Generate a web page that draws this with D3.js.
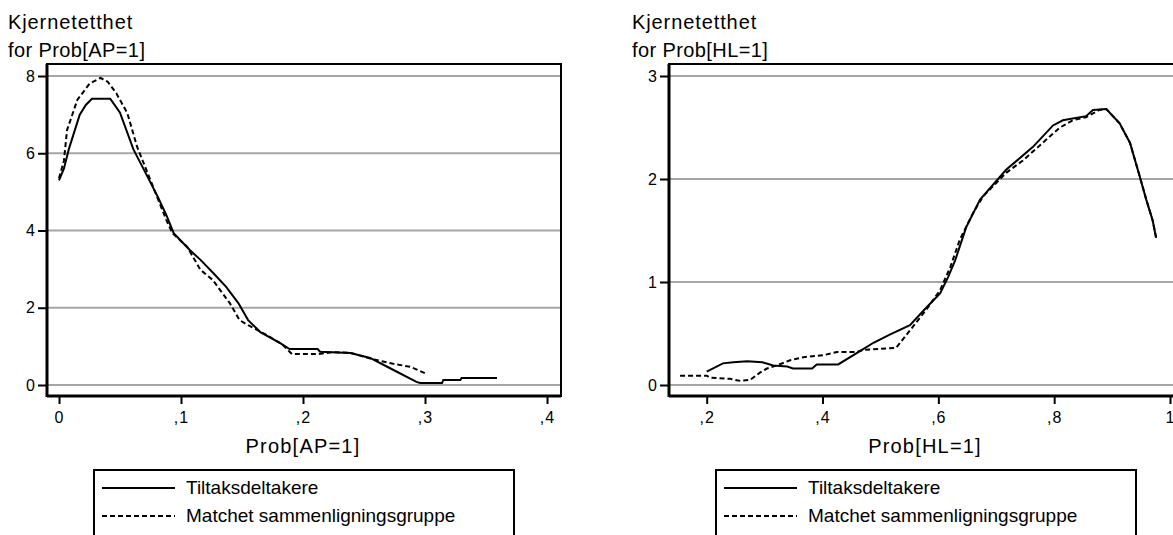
<!DOCTYPE html>
<html>
<head>
<meta charset="utf-8">
<script src="https://cdn.jsdelivr.net/npm/d3@7"></script>
<style>
  body { margin: 0; background: #fff; }
  svg { display: block; font-family: "Liberation Sans", Arial, sans-serif; }
</style>
</head>
<body>
<div class="chart"></div>
<script>
// series: [x, density]
var apDeltakere = [[0,5.3],[0.004,5.6],[0.008,6.1],[0.017,7.0],[0.022,7.25],[0.027,7.41],[0.042,7.41],[0.05,7.05],[0.061,6.1],[0.07,5.55],[0.081,4.87],[0.088,4.4],[0.094,3.93],[0.107,3.5],[0.116,3.24],[0.127,2.88],[0.137,2.54],[0.147,2.12],[0.155,1.68],[0.165,1.37],[0.181,1.09],[0.189,0.93],[0.212,0.93],[0.214,0.86],[0.239,0.83],[0.255,0.7],[0.271,0.44],[0.293,0.08],[0.296,0.05],[0.314,0.05],[0.315,0.13],[0.329,0.13],[0.33,0.18],[0.359,0.18]];
var apMatchet = [[0,5.35],[0.004,5.8],[0.0066,6.6],[0.015,7.38],[0.025,7.8],[0.034,7.95],[0.04,7.85],[0.047,7.55],[0.056,7.04],[0.064,6.17],[0.075,5.3],[0.088,4.27],[0.093,3.93],[0.105,3.58],[0.116,2.98],[0.126,2.72],[0.14,2.12],[0.148,1.68],[0.155,1.55],[0.17,1.3],[0.183,1.05],[0.191,0.8],[0.212,0.8],[0.225,0.85],[0.239,0.83],[0.257,0.67],[0.274,0.55],[0.288,0.47],[0.302,0.28]];

var hlDeltakere = [[0.2,0.13],[0.228,0.21],[0.246,0.22],[0.27,0.23],[0.296,0.22],[0.315,0.19],[0.339,0.18],[0.349,0.16],[0.382,0.16],[0.39,0.2],[0.427,0.2],[0.459,0.31],[0.488,0.41],[0.516,0.49],[0.551,0.58],[0.579,0.75],[0.603,0.89],[0.617,1.05],[0.629,1.21],[0.648,1.53],[0.672,1.8],[0.717,2.09],[0.763,2.31],[0.798,2.52],[0.815,2.57],[0.855,2.61],[0.867,2.67],[0.89,2.68],[0.913,2.54],[0.931,2.35],[0.948,2.02],[0.959,1.8],[0.97,1.6],[0.976,1.43]];
var hlMatchet = [[0.154,0.09],[0.2,0.09],[0.206,0.07],[0.24,0.06],[0.258,0.04],[0.275,0.05],[0.292,0.12],[0.304,0.16],[0.321,0.19],[0.344,0.24],[0.367,0.27],[0.402,0.29],[0.425,0.32],[0.459,0.32],[0.47,0.34],[0.527,0.36],[0.551,0.53],[0.579,0.73],[0.603,0.92],[0.621,1.15],[0.637,1.41],[0.66,1.67],[0.677,1.83],[0.717,2.06],[0.746,2.18],[0.786,2.38],[0.81,2.5],[0.832,2.57],[0.855,2.6],[0.878,2.67],[0.89,2.68],[0.913,2.54],[0.931,2.35],[0.948,2.02],[0.959,1.8],[0.97,1.6],[0.976,1.43]];

var apXTicks = [0, 0.1, 0.2, 0.3, 0.4];
var apXLabels = ["0", ",1", ",2", ",3", ",4"];
var apYTicks = [0, 2, 4, 6, 8];
var hlXTicks = [0.2, 0.4, 0.6, 0.8, 1];
var hlXLabels = [",2", ",4", ",6", ",8", "1"];
var hlYTicks = [0, 1, 2, 3];

var legendLabels = ["Tiltaksdeltakere", "Matchet sammenligningsgruppe"];

var W = 1173, H = 535;
var svg = d3.select("div.chart").append("svg")
    .attr("width", W).attr("height", H)
    .attr("viewBox", `0 0 ${W} ${H}`);

function panel(opt){
    var g = svg.append("g").attr("transform", `translate(${opt.left},0)`);
    var boxW = 514, top = 64, bottom = 396;

    var x = d3.scaleLinear().domain(opt.xDomain).range(opt.xRange);
    var y = d3.scaleLinear().domain(opt.yDomain).range([385, 76]);

    // gridlines
    g.selectAll(".grid")
        .data(opt.yTicks)
        .enter()
        .append("line")
            .attr("x1", 0).attr("x2", boxW)
            .attr("y1", d => y(d)).attr("y2", d => y(d))
            .attr("stroke", "#a6a6a6")
            .attr("stroke-width", 2);

    // series
    var line = d3.line().x(d => x(d[0])).y(d => y(d[1]));
    g.append("path")
        .attr("d", line(opt.solid))
        .attr("fill", "none").attr("stroke", "#000").attr("stroke-width", 2);
    g.append("path")
        .attr("d", line(opt.dashed))
        .attr("fill", "none").attr("stroke", "#000").attr("stroke-width", 2)
        .attr("stroke-dasharray", "5,3");

    // frame
    g.append("rect")
        .attr("x", 0).attr("y", top)
        .attr("width", boxW).attr("height", bottom - top)
        .attr("fill", "none").attr("stroke", "#000").attr("stroke-width", 2);
    g.append("line").attr("x1", 0).attr("x2", 0).attr("y1", top).attr("y2", bottom + 1)
        .attr("stroke", "#000").attr("stroke-width", 3);
    g.append("line").attr("x1", 0).attr("x2", boxW).attr("y1", bottom).attr("y2", bottom)
        .attr("stroke", "#000").attr("stroke-width", 3);

    // y axis
    var yAxis = d3.axisLeft(y).tickValues(opt.yTicks).tickSize(9).tickPadding(3)
        .tickFormat(d3.format("d"));
    var ya = g.append("g").call(yAxis);
    ya.select(".domain").remove();
    ya.selectAll(".tick line").attr("stroke-width", 2);
    ya.selectAll("text").attr("font-size", 16).attr("font-family", null).attr("fill", "#000");

    // x axis
    var xAxis = d3.axisBottom(x).tickValues(opt.xTicks).tickSize(8).tickPadding(8)
        .tickFormat((d, i) => opt.xLabels[i]);
    var xa = g.append("g").attr("transform", `translate(0,${bottom})`).call(xAxis);
    xa.select(".domain").remove();
    xa.selectAll(".tick line").attr("stroke-width", 2);
    xa.selectAll("text").attr("font-size", 16).attr("font-family", null).attr("fill", "#000")
        .attr("letter-spacing", 1);

    // titles
    g.append("text").attr("x", opt.titleX).attr("y", 29)
        .attr("font-size", 20).attr("letter-spacing", 0.9).text("Kjernetetthet");
    g.append("text").attr("x", opt.titleX).attr("y", 57)
        .attr("font-size", 20).attr("letter-spacing", 0.4).text(opt.title);
    g.append("text").attr("x", boxW / 2 - 1).attr("y", 453)
        .attr("text-anchor", "middle").attr("font-size", 20).attr("letter-spacing", 1.2)
        .text(opt.xTitle);

    // legend
    var lg = g.append("g").attr("transform", `translate(${boxW / 2 - 210},470)`);
    lg.append("rect").attr("x", 0).attr("y", 0).attr("width", 420).attr("height", 80)
        .attr("fill", "#fff").attr("stroke", "#000").attr("stroke-width", 2);
    legendLabels.forEach(function(lbl, i){
        var yy = 18 + i * 28;
        lg.append("line").attr("x1", 8).attr("x2", 81).attr("y1", yy).attr("y2", yy)
            .attr("stroke", "#000").attr("stroke-width", 2)
            .attr("stroke-dasharray", i === 1 ? "5,3" : null);
        lg.append("text").attr("x", 92).attr("y", yy + 6)
            .attr("font-size", 19).text(lbl);
    });
}

panel({
    left: 47,
    xDomain: [0, 0.4], xRange: [12, 500],
    yDomain: [0, 8],
    xTicks: apXTicks, xLabels: apXLabels, yTicks: apYTicks,
    solid: apDeltakere, dashed: apMatchet,
    title: "for Prob[AP=1]", titleX: -39, xTitle: "Prob[AP=1]"
});

panel({
    left: 669,
    xDomain: [0.2, 1], xRange: [37.7, 501],
    yDomain: [0, 3],
    xTicks: hlXTicks, xLabels: hlXLabels, yTicks: hlYTicks,
    solid: hlDeltakere, dashed: hlMatchet,
    title: "for Prob[HL=1]", titleX: -37, xTitle: "Prob[HL=1]"
});
</script>
</body>
</html>
